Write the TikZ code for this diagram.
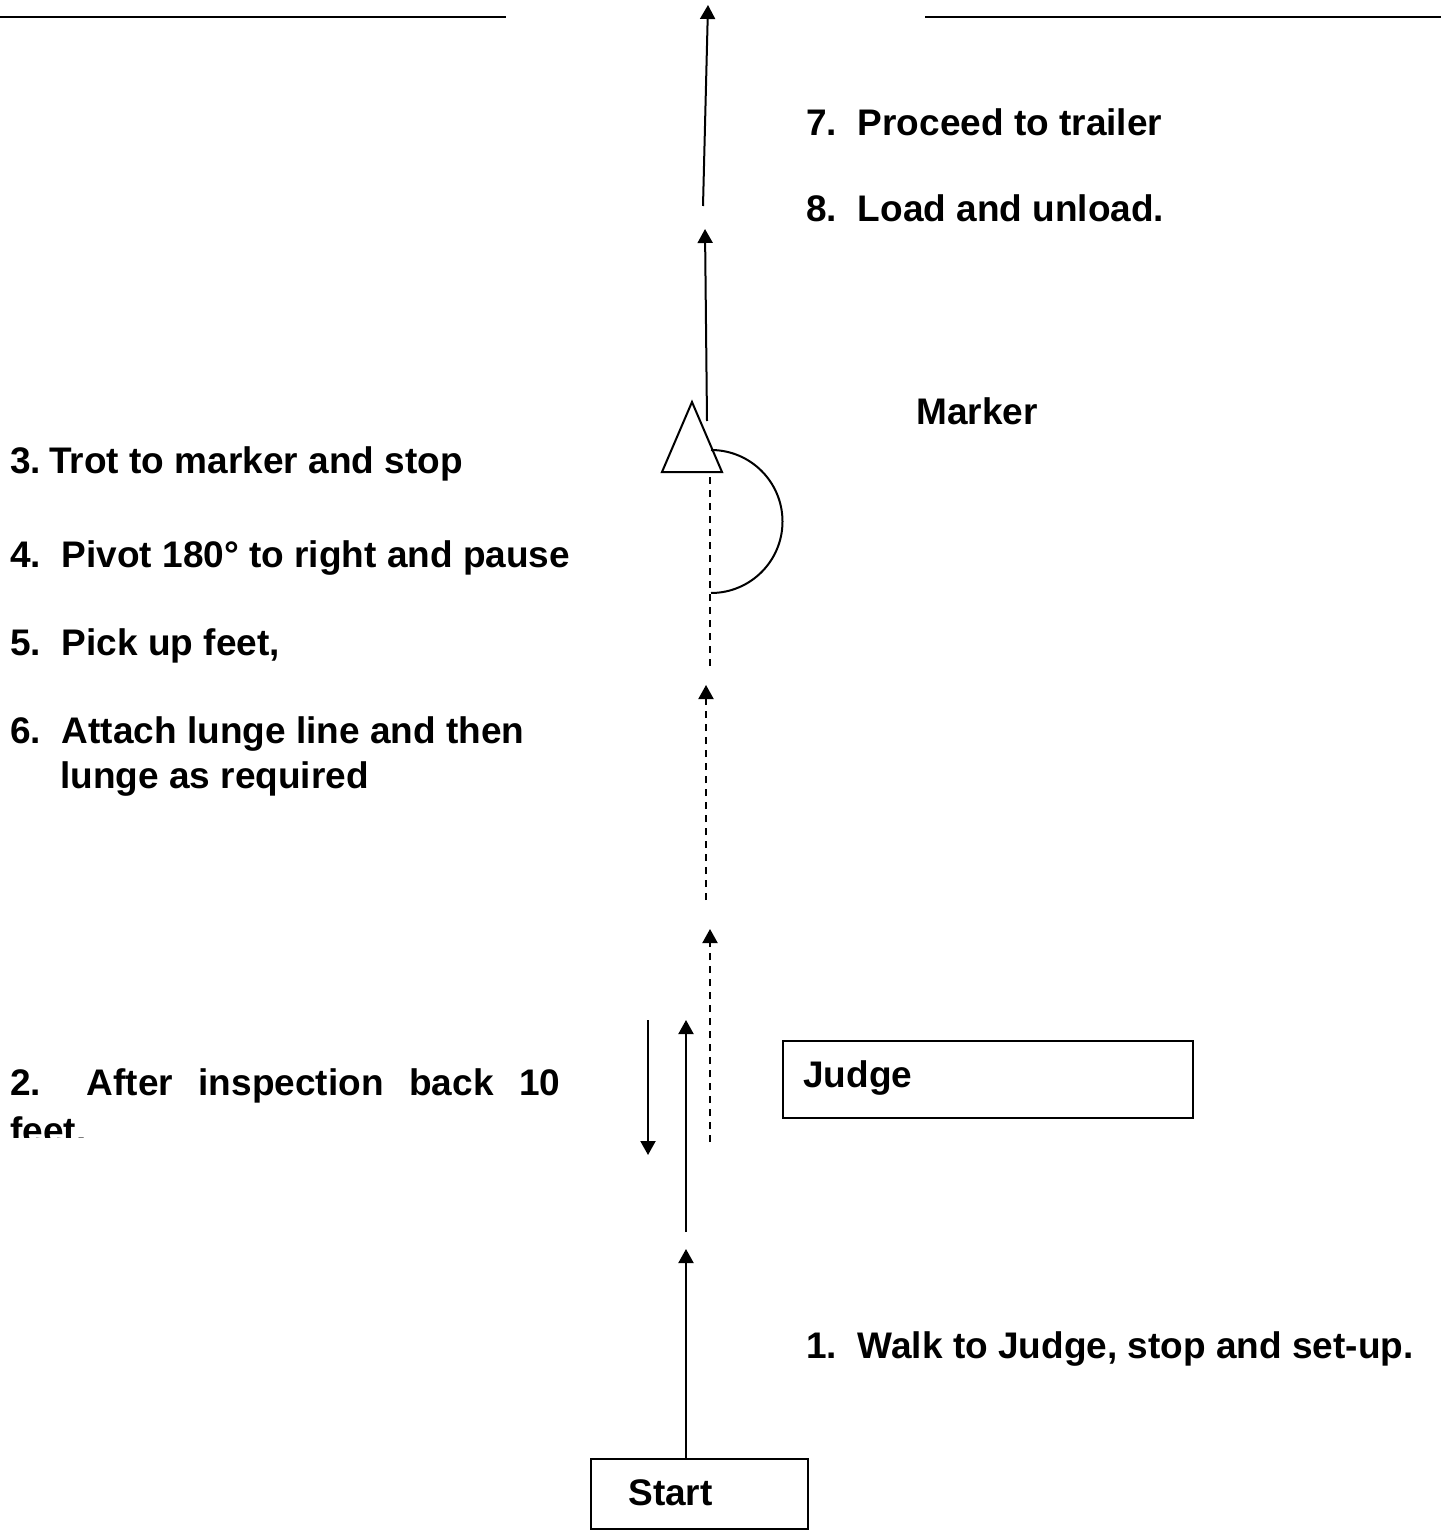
\documentclass[tikz,border=0pt]{standalone}
\usepackage{fontspec}
\setmainfont{Liberation Sans}
\usetikzlibrary{arrows.meta}
\tikzset{
  lbl/.style={anchor=base west, inner sep=0pt, font=\bfseries\fontsize{18.5pt}{22pt}\selectfont},
  boxn/.style={draw, line width=1pt, inner sep=0pt, anchor=north west},
  path/.style={line width=1pt, -{Triangle[width=7.5pt,length=7pt]}},
  dpath/.style={path, dash pattern=on 3.5pt off 3pt},
  plain/.style={line width=1pt},
  dplain/.style={line width=0.8pt, dash pattern=on 3.5pt off 3pt}
}
\begin{document}
\begin{tikzpicture}[x=0.5pt,y=-0.5pt]
\useasboundingbox (0,0) rectangle (1441,1530);
% top boundary lines
\coordinate (tl1) at (0,17); \coordinate (tl2) at (506,17);
\coordinate (tr1) at (925,17); \coordinate (tr2) at (1441,17);
\draw[line width=1.3pt] (tl1) -- (tl2);
\draw[line width=1.3pt] (tr1) -- (tr2);
% boxes
\node[boxn, minimum width=217pt*0.5, minimum height=70pt*0.5] (start) at (590,1458) {};
\node[lbl] (starttxt) at (628,1505) {Start};
\node[boxn, minimum width=410pt*0.5, minimum height=77pt*0.5] (judge) at (782,1040) {};
\node[lbl] (judgetxt) at (803,1087) {Judge};
% marker triangle
\coordinate (ta) at (692,402); \coordinate (tb) at (722,472); \coordinate (tc) at (662,472);
\draw[line width=1pt] (ta) -- (tb) -- (tc) -- cycle;
% semicircle pivot
\coordinate (arcs) at (711,450);
\draw[line width=1pt] (arcs) arc[start angle=90, end angle=-90, radius=35.75pt];
% arrows
\coordinate (a1s) at (703,206); \coordinate (a1e) at (708,5);
\draw[path] (a1s) -- (a1e);
\coordinate (a2s) at (707,421); \coordinate (a2e) at (705,229);
\draw[path] (a2s) -- (a2e);
\coordinate (d1s) at (710,477); \coordinate (d1e) at (710,666);
\draw[dplain] (d1s) -- (d1e);
\coordinate (d2s) at (706,900); \coordinate (d2e) at (706,685);
\draw[dpath] (d2s) -- (d2e);
\coordinate (d3s) at (710,1142); \coordinate (d3e) at (710,929);
\draw[dpath] (d3s) -- (d3e);
\coordinate (u1s) at (686,1232); \coordinate (u1e) at (686,1020);
\draw[path] (u1s) -- (u1e);
\coordinate (b1s) at (648,1020); \coordinate (b1e) at (648,1155);
\draw[path] (b1s) -- (b1e);
\coordinate (u2e) at (686,1249);
\draw[path] (start.north -| u2e) -- (u2e);
% labels
\node[lbl] (t7) at (806,136) {7.\ \ Proceed to trailer};
\node[lbl] (t8) at (806,221) {8.\ \ Load and unload.};
\node[lbl] (tm) at (916,424) {Marker};
\node[lbl] (t3) at (10,473) {3.\hspace{0.22em}Trot to marker and stop};
\node[lbl] (t4) at (10,567) {4.\ \ Pivot 180° to right and pause};
\node[lbl] (t5) at (10,655) {5.\ \ Pick up feet,};
\node[lbl] (t6) at (10,743) {6.\ \ Attach lunge line and then};
\node[lbl] (t6b) at (60,788) {lunge as required};
\node[lbl] (t2) at (10,1095) {\hbox to 275pt{2.\hspace{10pt}\hfill After\hfill inspection\hfill back\hfill 10}};
\begin{scope}
\clip (0,1100) rectangle (600,1137);
\node[lbl] (t2b) at (10,1143) {feet.};
\end{scope}
\node[lbl] (t1) at (806,1358) {1.\ \ Walk to Judge, stop and set-up.};
\end{tikzpicture}
\end{document}
